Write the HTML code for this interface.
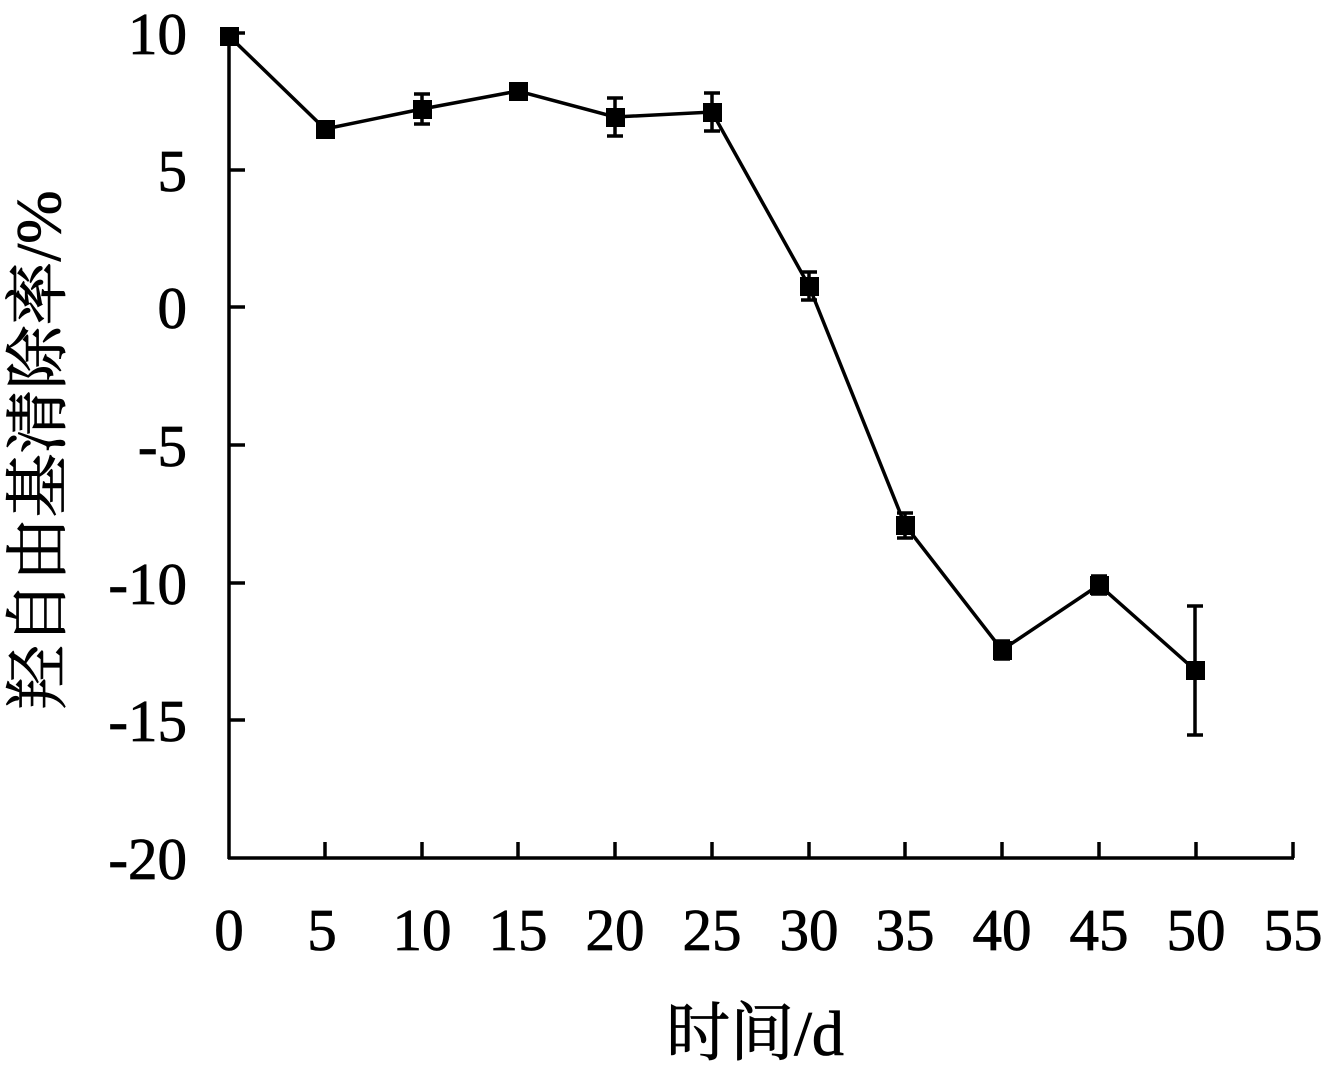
<!DOCTYPE html>
<html><head><meta charset="utf-8"><style>html,body{margin:0;padding:0;background:#fff}</style></head>
<body>
<svg width="1327" height="1077" xmlns="http://www.w3.org/2000/svg">
<rect width="1327" height="1077" fill="#fff"/>
<g stroke="#000" stroke-width="3.5" fill="none">
<line x1="229" y1="33" x2="229" y2="859"/>
<line x1="228" y1="858" x2="1294" y2="858"/>
<g>
<line x1="325" y1="858" x2="325" y2="842"/><line x1="422" y1="858" x2="422" y2="842"/>
<line x1="518" y1="858" x2="518" y2="842"/><line x1="615" y1="858" x2="615" y2="842"/>
<line x1="712" y1="858" x2="712" y2="842"/><line x1="809" y1="858" x2="809" y2="842"/>
<line x1="905" y1="858" x2="905" y2="842"/><line x1="1002" y1="858" x2="1002" y2="842"/>
<line x1="1099" y1="858" x2="1099" y2="842"/><line x1="1196" y1="858" x2="1196" y2="842"/>
<line x1="1293" y1="858" x2="1293" y2="842"/>
</g>
<g>
<line x1="229" y1="33" x2="245" y2="33"/><line x1="229" y1="170" x2="245" y2="170"/>
<line x1="229" y1="307" x2="245" y2="307"/><line x1="229" y1="445" x2="245" y2="445"/>
<line x1="229" y1="583" x2="245" y2="583"/><line x1="229" y1="720" x2="245" y2="720"/>
</g>
<polyline points="229,36 325,129 422,109 518,91 615,117 712,112 809,286 905,525 1002,650 1099,585 1195,670"/>
<g>
<path d="M229,30V42M221,30H237M221,42H237"/>
<path d="M422,94V124M414,94H430M414,124H430"/>
<path d="M518,84V98M510,84H526M510,98H526"/>
<path d="M615,98V136M607,98H623M607,136H623"/>
<path d="M712,93V131M704,93H720M704,131H720"/>
<path d="M809,272V300M801,272H817M801,300H817"/>
<path d="M905,513V538M897,513H913M897,538H913"/>
<path d="M1002,641V659M994,641H1010M994,659H1010"/>
<path d="M1099,576V594M1091,576H1107M1091,594H1107"/>
<path d="M1195,606V735M1187,606H1203M1187,735H1203"/>
</g>
</g>
<g fill="#000">
<rect x="220" y="27" width="19" height="19"/><rect x="316" y="120" width="19" height="19"/>
<rect x="413" y="100" width="19" height="19"/><rect x="509" y="82" width="19" height="19"/>
<rect x="606" y="108" width="19" height="19"/><rect x="703" y="103" width="19" height="19"/>
<rect x="800" y="277" width="19" height="19"/><rect x="896" y="516" width="19" height="19"/>
<rect x="993" y="641" width="19" height="19"/><rect x="1090" y="576" width="19" height="19"/>
<rect x="1186" y="661" width="19" height="19"/>
</g>
<g font-family="Liberation Serif, serif" font-size="59" fill="#000" stroke="#000" stroke-width="0.8">
<g text-anchor="end">
<text x="187" y="54">10</text><text x="187" y="191">5</text><text x="187" y="328">0</text>
<text x="187" y="466">-5</text><text x="187" y="604">-10</text><text x="187" y="741">-15</text>
<text x="187" y="879">-20</text>
</g>
<g text-anchor="middle">
<text x="229" y="950">0</text><text x="322" y="950">5</text><text x="422" y="950">10</text>
<text x="518" y="950">15</text><text x="615" y="950">20</text><text x="712" y="950">25</text>
<text x="809" y="950">30</text><text x="905" y="950">35</text><text x="1002" y="950">40</text>
<text x="1099" y="950">45</text><text x="1196" y="950">50</text><text x="1293" y="950">55</text>
</g>
<text x="755" y="1055" text-anchor="middle" font-size="64" font-family="Liberation Serif, Noto Serif CJK SC, serif">时间/d</text>
<text transform="translate(60,450) rotate(-90)" text-anchor="middle" font-size="64" font-family="Liberation Serif, Noto Serif CJK SC, serif">羟自由基清除率/%</text>
</g>
</svg>
</body></html>
